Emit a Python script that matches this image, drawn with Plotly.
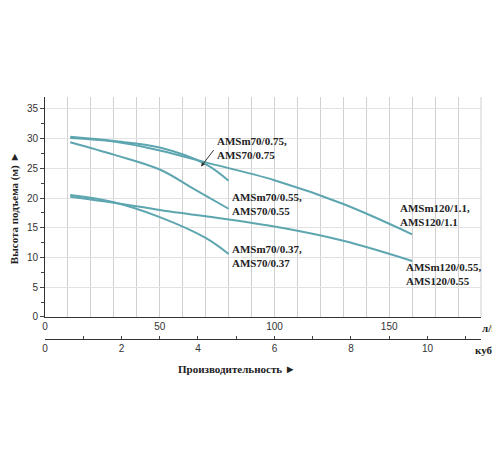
import plotly.graph_objects as go

q_075 = [11, 30, 50, 70, 80]
h_075 = [30.3, 29.6, 28.5, 25.7, 22.9]
q_055 = [11, 30, 50, 65, 80]
h_055 = [29.4, 27.3, 24.8, 21.5, 18.2]
q_11 = [11, 30, 50, 70, 100, 130, 160]
h_11 = [30.1, 29.5, 28.0, 26.0, 23.0, 19.0, 13.9]
q_037 = [11, 30, 50, 70, 80]
h_037 = [20.5, 19.3, 16.8, 13.3, 10.6]
q_120_055 = [11, 30, 50, 100, 130, 160]
h_120_055 = [20.2, 19.2, 18.0, 15.2, 12.8, 9.4]

labels = [
    ("AMSm70/0.75,<br>AMS70/0.75", 74, 28.5),
    ("AMSm70/0.55,<br>AMS70/0.55", 80.5, 19.0),
    ("AMSm120/1.1,<br>AMS120/1.1", 154, 17.2),
    ("AMSm70/0.37,<br>AMS70/0.37", 80.5, 10.2),
    ("AMSm120/0.55,<br>AMS120/0.55", 156.5, 7.2),
]

col = "#5da6b0"
fig = go.Figure()
for q, h in [(q_075, h_075), (q_055, h_055), (q_11, h_11), (q_037, h_037), (q_120_055, h_120_055)]:
    fig.add_trace(go.Scatter(x=q, y=h, mode="lines", line=dict(color=col, width=2, shape="spline"),
                             showlegend=False, hoverinfo="skip"))
fig.add_trace(go.Scatter(x=[0], y=[0], xaxis="x2", mode="markers", marker=dict(opacity=0),
                         showlegend=False, hoverinfo="skip"))

serif = dict(family="Liberation Serif", size=11, color="#222")
ann = []
for t, x, y in labels:
    ann.append(dict(x=x, y=y, text="<b>" + t + "</b>", showarrow=False, xanchor="left",
                    yanchor="middle", align="left", font=serif))
ann.append(dict(x=68, y=25.3, ax=74, ay=28.3, axref="x", ayref="y", text="", showarrow=True,
                arrowhead=2, arrowsize=0.8, arrowwidth=1, arrowcolor="#333"))
ann += [
    dict(xref="paper", yref="paper", x=1.075, y=0.061, text="<b>л/мин</b>", showarrow=False,
         xanchor="right", yanchor="middle", font=serif),
    dict(xref="paper", yref="paper", x=1.075, y=-0.028, text="<b>куб.м/ч</b>", showarrow=False,
         xanchor="right", yanchor="middle", font=serif),
    dict(xref="paper", yref="paper", x=0.44, y=-0.106, text="<b>Производительность ►</b>",
         showarrow=False, yanchor="middle", font=serif),
    dict(xref="paper", yref="paper", x=-0.07, y=0.55, text="<b>Высота подъема (м) ►</b>",
         showarrow=False, textangle=-90, xanchor="center", yanchor="middle", font=serif),
]

tf = dict(family="Liberation Sans", size=10, color="#333")
fig.update_layout(
    width=500, height=450, plot_bgcolor="white", paper_bgcolor="white",
    margin=dict(l=37, r=27, t=89, b=115),
    xaxis=dict(range=[0, 190], tickvals=[0, 50, 100, 150], showgrid=True, gridcolor="#d0d0d0",
               minor=dict(dtick=10, tick0=0, showgrid=True, gridcolor="#d0d0d0"),
               showline=True, linecolor="#333", ticks="", anchor="y", automargin=False,
               tickfont=tf, zeroline=False),
    xaxis2=dict(range=[0, 11.4], tickvals=[0, 2, 4, 6, 8, 10], overlaying="x", side="bottom",
                anchor="free", position=0.016, showline=True, linecolor="#333", ticks="inside",
                ticklen=3, showgrid=False, zeroline=False, automargin=False,
                minor=dict(dtick=1, ticks="inside", ticklen=3),
                tickfont=tf),
    yaxis=dict(range=[0, 37], domain=[0.106, 1], tickvals=[0, 5, 10, 15, 20, 25, 30, 35],
               showgrid=True, gridcolor="#e2e2e2", showline=True, linecolor="#333",
               ticks="outside", ticklen=4, automargin=False,
               minor=dict(dtick=2.5, ticks="outside", ticklen=3),
               zeroline=False, tickfont=tf),
    annotations=ann,
)
fig.add_shape(type="line", xref="paper", yref="paper", x0=1, x1=1, y0=0.106, y1=1,
              line=dict(color="#d0d0d0", width=1))
fig.write_html("out.html")
